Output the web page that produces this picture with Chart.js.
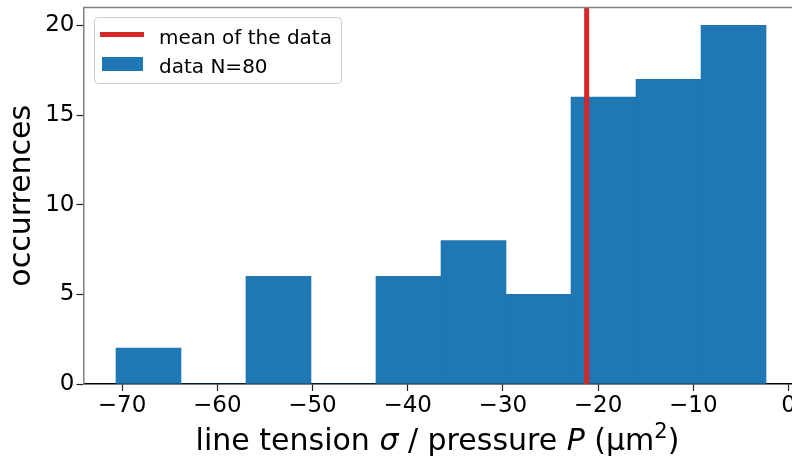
<!DOCTYPE html>
<html>
<head>
<meta charset="utf-8">
<script src="https://cdn.jsdelivr.net/npm/chart.js@4/dist/chart.umd.min.js"></script>
<style>
html,body{margin:0;padding:0;background:#fff;overflow:hidden;width:792px;height:457px;}
#wrap{position:relative;width:800px;height:457px;}
</style>
</head>
<body>
<div id="wrap"><canvas id="c" width="800" height="457"></canvas></div>
<script>
// ---- data ----
const binEdges = [-70.64, -63.81, -56.98, -50.16, -43.33, -36.50, -29.67, -22.84, -16.02, -9.19, -2.36];
const counts = [2, 0, 6, 0, 6, 8, 5, 16, 17, 20];
const meanValue = -21.2;
const xTickValues = [-70, -60, -50, -40, -30, -20, -10, 0];
const yTickValues = [0, 5, 10, 15, 20];
const legendLabels = ["mean of the data", "data N=80"];
const yTitle = "occurrences";

const FONT = "'DejaVu Sans', sans-serif";
const BLUE = "#1f77b4", RED = "#d62728";

const barData = counts.map((c, i) => ({ x: (binEdges[i] + binEdges[i + 1]) / 2, y: c }));

const frame = {
  id: 'frame',
  afterDraw(chart) {
    const ctx = chart.ctx, a = chart.chartArea;
    ctx.save();
    // top spine
    ctx.strokeStyle = '#808080'; ctx.lineWidth = 1.5;
    ctx.beginPath(); ctx.moveTo(a.left, a.top); ctx.lineTo(a.right, a.top); ctx.stroke();
    // legend
    const bx = 94.5, by = 17.5, bw = 247, bh = 66, r = 4;
    ctx.fillStyle = 'rgba(255,255,255,0.8)';
    ctx.strokeStyle = '#cccccc'; ctx.lineWidth = 1;
    ctx.beginPath();
    ctx.moveTo(bx + r, by); ctx.lineTo(bx + bw - r, by); ctx.arcTo(bx + bw, by, bx + bw, by + r, r);
    ctx.lineTo(bx + bw, by + bh - r); ctx.arcTo(bx + bw, by + bh, bx + bw - r, by + bh, r);
    ctx.lineTo(bx + r, by + bh); ctx.arcTo(bx, by + bh, bx, by + bh - r, r);
    ctx.lineTo(bx, by + r); ctx.arcTo(bx, by, bx + r, by, r);
    ctx.closePath(); ctx.fill(); ctx.stroke();
    // line entry
    ctx.strokeStyle = RED; ctx.lineWidth = 5; ctx.lineCap = 'butt';
    ctx.beginPath(); ctx.moveTo(100, 34.5); ctx.lineTo(144, 34.5); ctx.stroke();
    // patch entry
    ctx.fillStyle = BLUE;
    ctx.fillRect(102, 57, 41, 14);
    ctx.fillStyle = '#000';
    ctx.font = "20px " + FONT;
    ctx.textBaseline = 'alphabetic'; ctx.textAlign = 'left';
    ctx.fillText(legendLabels[0], 159, 44);
    ctx.fillText(legendLabels[1], 159, 73.3);
    // x axis title with mixed styles
    const segs = [
      { t: "line tension ", f: "30px " + FONT, dy: 0 },
      { t: "\u03c3", f: "oblique 30px " + FONT, dy: 0 },
      { t: " / pressure ", f: "30px " + FONT, dy: 0 },
      { t: "P", f: "oblique 30px " + FONT, dy: 0 },
      { t: " (\u03bcm", f: "30px " + FONT, dy: 0 },
      { t: "2", f: "21px " + FONT, dy: -12 },
      { t: ")", f: "30px " + FONT, dy: 0 }
    ];
    let total = 0;
    segs.forEach(s => { ctx.font = s.f; s.w = ctx.measureText(s.t).width; total += s.w; });
    let x = 437.5 - total / 2;
    const base = 449.5;
    segs.forEach(s => { ctx.font = s.f; ctx.fillText(s.t, x, base + s.dy); x += s.w; });
    ctx.restore();
  }
};

new Chart(document.getElementById('c'), {
  data: {
    datasets: [
      {
        type: 'line', label: legendLabels[0], order: 0,
        data: [{ x: meanValue, y: 0 }, { x: meanValue, y: 21 }],
        borderColor: RED, borderWidth: 5, pointRadius: 0, borderCapStyle: 'butt', fill: false
      },
      {
        type: 'bar', label: legendLabels[1], order: 1,
        data: barData, backgroundColor: BLUE, borderWidth: 0,
        barPercentage: 1.0, categoryPercentage: 1.0, grouped: false
      }
    ]
  },
  options: {
    responsive: false, animation: false, devicePixelRatio: 1,
    layout: { padding: { top: 7.5, right: 1.5, left: 0, bottom: 0 } },
    plugins: { legend: { display: false }, tooltip: { enabled: false } },
    scales: {
      x: {
        type: 'linear', min: -74.05, max: 1.05, offset: false,
        afterBuildTicks: s => { s.ticks = xTickValues.map(v => ({ value: v })); },
        afterFit: s => { s.height = 73; s.paddingLeft = 0; s.paddingRight = 0; },
        grid: { offset: false, drawOnChartArea: false, drawTicks: true, tickLength: 7, tickColor: '#222', tickWidth: 1.2 },
        border: { color: '#000', width: 1.5 },
        ticks: {
          font: { family: FONT, size: 23 }, color: '#000', padding: 1, maxRotation: 0, autoSkip: false,
          callback: v => v < 0 ? '\u2212' + Math.abs(v) : String(v)
        }
      },
      y: {
        type: 'linear', min: 0, max: 21,
        afterBuildTicks: s => { s.ticks = yTickValues.map(v => ({ value: v })); },
        afterFit: s => { s.width = 83.5; s.paddingTop = 0; s.paddingBottom = 0; },
        grid: { drawOnChartArea: false, drawTicks: true, tickLength: 7, tickColor: '#222', tickWidth: 1.2 },
        border: { color: '#808080', width: 1.5 },
        title: { display: true, text: yTitle, font: { family: FONT, size: 30 }, color: '#000', padding: { top: 4, bottom: 0 } },
        ticks: { font: { family: FONT, size: 23 }, color: '#000', padding: 2 }
      }
    }
  },
  plugins: [frame]
});
</script>
</body>
</html>
